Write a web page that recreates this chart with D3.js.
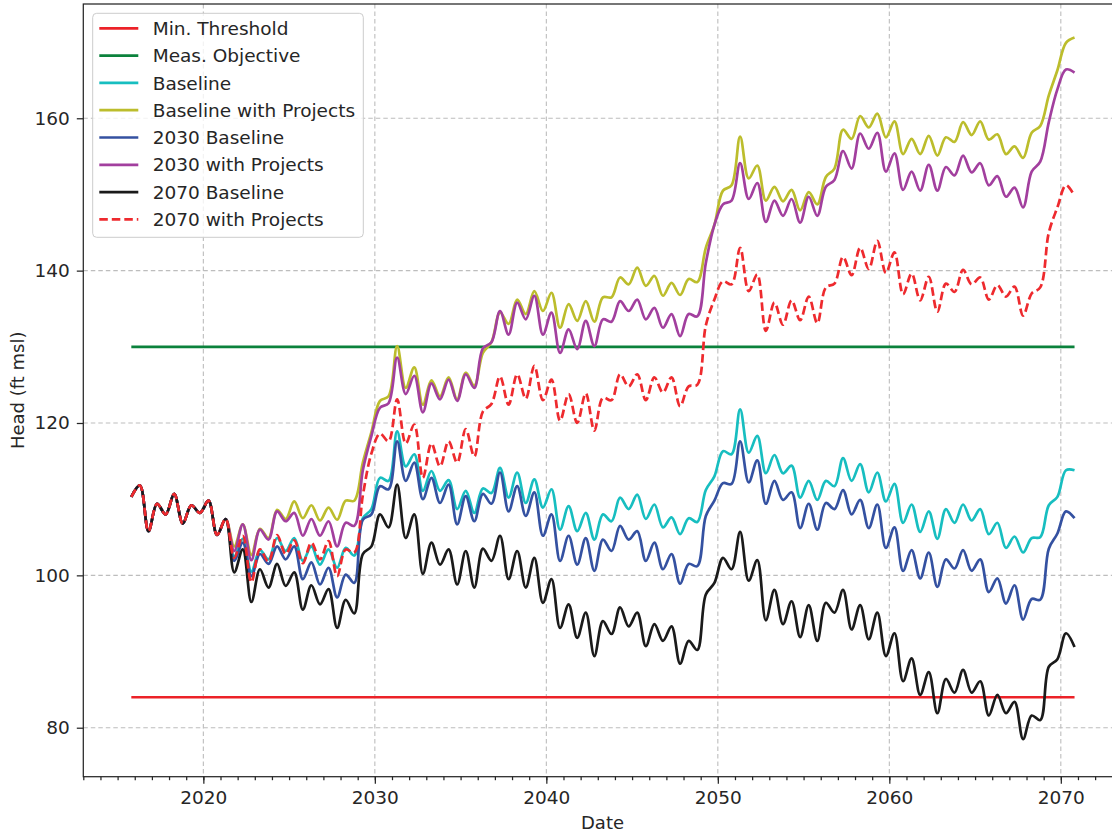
<!DOCTYPE html>
<html>
<head>
<meta charset="utf-8">
<script src="https://cdn.jsdelivr.net/npm/d3@7"></script>
<style>
  html, body { margin: 0; padding: 0; background: #ffffff; }
  svg { display: block; }
  text { font-family: "DejaVu Sans", sans-serif; }
</style>
</head>
<body>
<svg id="chart" width="1112" height="838"></svg>
<script>
// Sample dates (decimal years), two per year near the seasonal high and low
const dates = [
  2015.8,2016.3,2016.8,2017.3,2017.8,2018.3,2018.8,2019.3,2019.8,2020.3,
  2020.8,2021.3,2021.8,2022.3,2022.8,2023.3,2023.8,2024.3,2024.8,2025.3,
  2025.8,2026.3,2026.8,2027.3,2027.8,2028.3,2028.8,2029.3,2029.8,2030.3,
  2030.8,2031.3,2031.8,2032.3,2032.8,2033.3,2033.8,2034.3,2034.8,2035.3,
  2035.8,2036.3,2036.8,2037.3,2037.8,2038.3,2038.8,2039.3,2039.8,2040.3,
  2040.8,2041.3,2041.8,2042.3,2042.8,2043.3,2043.8,2044.3,2044.8,2045.3,
  2045.8,2046.3,2046.8,2047.3,2047.8,2048.3,2048.8,2049.3,2049.8,2050.3,
  2050.8,2051.3,2051.8,2052.3,2052.8,2053.3,2053.8,2054.3,2054.8,2055.3,
  2055.8,2056.3,2056.8,2057.3,2057.8,2058.3,2058.8,2059.3,2059.8,2060.3,
  2060.8,2061.3,2061.8,2062.3,2062.8,2063.3,2063.8,2064.3,2064.8,2065.3,
  2065.8,2066.3,2066.8,2067.3,2067.8,2068.3,2068.8,2069.3,2069.8,2070.3,
  2070.8
];

// Reference levels (ft msl)
const minThreshold = 84;
const measObjective = 130;

// Simulated head (ft msl) for each scenario, one value per date
const baseline = [
  110.3,111.8,105.8,109.4,108.0,110.7,106.8,109.2,108.2,109.8,
  105.3,107.4,102.5,104.8,100.5,103.3,102.1,104.9,103.2,104.9,
  101.9,103.8,101.4,103.4,101.0,103.6,102.6,107.5,108.7,112.8,
  112.4,118.9,114.3,115.9,111.1,113.7,111.1,112.5,108.7,111.1,
  108.2,111.4,110.8,114.1,110.2,113.5,109.5,112.6,108.9,111.3,
  106.0,109.1,105.8,108.2,104.7,108.0,107.1,110.2,108.7,110.6,
  107.4,109.3,106.3,107.6,105.4,107.5,107.0,111.2,113.0,116.3,
  115.9,121.8,116.1,118.3,113.4,115.8,113.4,114.4,110.2,112.4,
  109.9,112.4,111.7,115.4,112.4,114.6,110.9,113.5,109.7,112.0,
  106.9,109.3,105.7,108.4,104.8,108.7,106.9,109.3,107.2,108.7,
  105.4,106.9,103.6,105.1,103.0,104.9,105.0,109.2,110.3,113.8,
  113.8
];

const baselineWithProjects = [
  110.3,111.8,105.8,109.4,108.0,110.7,106.8,109.2,108.2,109.8,
  105.3,107.4,103.8,106.7,102.7,106.1,104.9,108.6,107.4,109.7,
  107.5,109.2,107.2,108.9,107.3,109.8,109.8,114.8,118.8,122.9,
  123.5,130.1,124.6,127.3,122.4,125.6,123.5,126.0,123.1,126.6,
  124.9,129.2,130.6,134.5,133.0,136.2,134.3,137.3,134.7,137.1,
  132.5,135.6,133.4,136.0,133.3,136.5,136.5,139.1,138.2,140.4,
  138.0,139.3,136.7,138.4,136.8,138.9,138.5,143.0,146.0,150.5,
  151.2,157.6,152.1,153.8,149.2,151.0,149.1,150.6,147.9,150.3,
  148.7,152.3,153.4,158.5,157.3,160.3,158.8,160.6,157.5,159.6,
  155.3,157.3,155.3,157.7,155.1,157.5,156.9,159.5,157.8,159.6,
  157.2,157.9,155.3,156.3,154.8,158.1,159.0,163.0,166.3,169.9,
  170.6
];

const baseline2030 = [
  110.3,111.8,105.8,109.4,108.0,110.7,106.8,109.2,108.2,109.8,
  105.3,107.4,101.9,104.3,99.9,102.8,101.5,103.8,102.1,103.8,
  99.5,101.7,98.8,101.0,97.1,100.1,99.0,107.3,108.0,111.7,
  111.3,117.6,112.4,114.8,110.0,112.8,109.5,111.9,106.7,110.4,
  107.1,110.7,109.4,113.5,108.4,111.7,107.8,110.9,105.2,108.0,
  101.9,105.2,101.4,104.9,100.6,104.7,103.2,106.5,104.7,105.8,
  101.9,104.3,100.8,102.8,98.9,101.5,101.2,107.8,109.8,112.1,
  112.0,117.6,112.2,115.1,109.4,112.4,109.9,110.9,106.2,109.4,
  106.0,109.5,108.7,111.2,108.0,109.9,106.2,109.3,103.6,106.3,
  100.6,103.3,99.6,103.0,98.5,102.1,100.9,103.3,100.6,102.1,
  97.8,99.6,96.3,98.7,94.2,96.9,96.8,103.5,105.5,108.4,
  107.5
];

const projects2030 = [
  110.3,111.8,105.8,109.4,108.0,110.7,106.8,109.2,108.2,109.8,
  105.3,107.4,103.2,106.7,102.0,106.0,104.7,108.4,107.1,108.2,
  105.2,107.4,105.2,107.1,103.8,106.9,106.5,113.8,118.3,122.0,
  122.6,128.6,123.8,126.2,121.4,125.2,123.1,125.7,122.9,126.4,
  124.6,129.8,130.6,134.7,131.6,135.8,133.6,136.7,131.6,134.5,
  129.2,132.3,129.7,133.4,130.1,133.6,133.3,136.0,134.7,136.2,
  133.6,135.1,132.5,134.3,131.4,134.3,134.0,141.0,146.0,148.7,
  149.2,154.1,149.4,151.5,146.4,149.2,147.2,149.4,146.3,149.7,
  147.2,151.0,151.9,155.7,153.4,158.0,156.0,158.1,153.0,155.4,
  150.6,153.0,150.5,153.9,150.5,153.6,152.5,155.1,152.9,154.1,
  151.2,152.4,149.7,150.9,148.3,153.0,154.3,159.5,163.8,166.4,
  166.0
];

const baseline2070 = [
  110.3,111.8,105.8,109.4,108.0,110.7,106.8,109.2,108.2,109.8,
  105.3,107.4,100.4,103.4,96.5,100.8,98.4,101.5,98.6,100.4,
  95.5,98.7,96.2,98.2,93.1,96.8,95.0,102.8,103.8,108.0,
  106.3,111.9,104.9,108.0,100.2,104.3,101.4,103.4,98.8,103.2,
  98.4,103.5,101.9,105.2,99.5,103.2,98.4,102.3,96.4,99.5,
  93.1,96.2,91.8,95.1,89.4,94.0,92.3,95.8,93.3,95.1,
  90.7,93.6,91.4,93.3,88.4,91.4,90.2,97.5,99.0,102.3,
  100.8,105.7,99.3,102.0,94.1,98.1,93.6,96.6,91.9,96.1,
  91.4,96.4,95.1,98.1,92.9,96.1,91.6,95.1,89.4,92.4,
  86.1,89.1,84.3,87.3,81.9,86.4,84.6,87.6,84.6,86.1,
  81.6,84.3,81.9,83.4,78.5,81.6,81.0,88.0,89.0,92.4,
  90.6
];

const projects2070 = [
  110.3,111.8,105.8,109.4,108.0,110.7,106.8,109.2,108.2,109.8,
  105.3,107.4,102.3,105.2,99.1,103.4,101.8,105.3,102.8,104.6,
  101.6,104.3,102.1,104.5,99.9,103.4,103.0,110.5,116.0,118.6,
  117.6,123.1,117.3,119.8,112.8,117.3,114.3,117.6,114.8,119.2,
  115.6,121.5,122.5,126.1,122.4,126.4,123.2,127.5,123.0,125.7,
  120.3,123.8,120.0,123.9,119.0,123.3,123.0,126.4,124.8,126.4,
  123.0,126.0,124.0,126.0,122.2,124.8,125.0,132.8,136.2,138.6,
  138.2,143.0,137.3,139.5,132.1,135.8,132.9,136.1,133.5,136.6,
  133.1,137.8,138.3,141.8,139.4,143.0,140.2,143.9,139.7,142.4,
  136.9,139.6,136.1,139.2,134.6,138.3,137.2,140.1,138.2,139.1,
  136.2,138.1,136.6,137.9,134.1,137.0,137.8,145.0,148.3,151.2,
  149.8
];

// Axis ticks
const xTickYears = [2020, 2030, 2040, 2050, 2060, 2070];
const yTickValues = [80, 100, 120, 140, 160];

// Series styling, in drawing / legend order
const seriesDefs = [
  { name: "Min. Threshold",          color: "#ec2228", dash: null,    level: minThreshold },
  { name: "Meas. Objective",         color: "#0b823c", dash: null,    level: measObjective },
  { name: "Baseline",                color: "#17bec0", dash: null,    values: baseline },
  { name: "Baseline with Projects",  color: "#bcbd2c", dash: null,    values: baselineWithProjects },
  { name: "2030 Baseline",           color: "#3451a1", dash: null,    values: baseline2030 },
  { name: "2030 with Projects",      color: "#a23f9e", dash: null,    values: projects2030 },
  { name: "2070 Baseline",           color: "#1a1a1a", dash: null,    values: baseline2070 },
  { name: "2070 with Projects",      color: "#ee2a2e", dash: "8.5,4", values: projects2070 }
];

const svg = d3.select("#chart");
const frame = { left: 83.3, top: 4, right: 1121.7, bottom: 776.7 };
const ink = "#262626";
const labelSize = 18.5;

const x = d3.scaleLinear().domain([2013.0, 2073.55]).range([frame.left, frame.right]);
const y = d3.scaleLinear().domain([73.57, 175.0]).range([frame.bottom, frame.top]);

svg.append("defs").append("clipPath").attr("id", "plot-clip")
  .append("rect")
  .attr("x", frame.left).attr("y", frame.top)
  .attr("width", frame.right - frame.left).attr("height", frame.bottom - frame.top);

// Dashed grid
const grid = svg.append("g").attr("stroke", "#bdbdbd").attr("stroke-width", 1.1)
  .attr("stroke-dasharray", "4.5,3");
grid.selectAll("line.gx").data(xTickYears).join("line").attr("class", "gx")
  .attr("x1", d => x(d)).attr("x2", d => x(d))
  .attr("y1", frame.top).attr("y2", frame.bottom);
grid.selectAll("line.gy").data(yTickValues).join("line").attr("class", "gy")
  .attr("x1", frame.left).attr("x2", frame.right)
  .attr("y1", d => y(d)).attr("y2", d => y(d));

// Lines
const plot = svg.append("g").attr("clip-path", "url(#plot-clip)");
const span = d3.extent(dates);
const lineGen = d3.line()
  .x(d => x(d[0]))
  .y(d => y(d[1]))
  .curve(d3.curveCatmullRom.alpha(0.5));

seriesDefs.forEach(s => {
  const pts = s.values
    ? s.values.map((v, i) => [dates[i], v])
    : [[span[0], s.level], [span[1], s.level]];
  plot.append("path")
    .datum(pts)
    .attr("d", lineGen)
    .attr("fill", "none")
    .attr("stroke", s.color)
    .attr("stroke-width", 2.7)
    .attr("stroke-linejoin", "round")
    .attr("stroke-linecap", "butt")
    .attr("stroke-dasharray", s.dash);
});

// Axes frame
svg.append("rect")
  .attr("x", frame.left).attr("y", frame.top)
  .attr("width", frame.right - frame.left).attr("height", frame.bottom - frame.top)
  .attr("fill", "none").attr("stroke", ink).attr("stroke-width", 1.25);

// X axis: decade labels and yearly minor ticks
const xAxis = svg.append("g")
  .attr("transform", `translate(0,${frame.bottom})`)
  .call(d3.axisBottom(x).tickValues(xTickYears).tickSize(7).tickPadding(7.2)
    .tickFormat(d3.format("d")));
const xMinor = svg.append("g")
  .attr("transform", `translate(0,${frame.bottom})`)
  .call(d3.axisBottom(x).tickValues(d3.range(2013, 2074)).tickSize(3.5).tickFormat(""));

const yAxis = svg.append("g")
  .attr("transform", `translate(${frame.left},0)`)
  .call(d3.axisLeft(y).tickValues(yTickValues).tickSize(6.5).tickPadding(7)
    .tickFormat(d3.format("d")));

[xAxis, xMinor, yAxis].forEach(g => {
  g.select(".domain").remove();
  g.attr("color", ink)
    .attr("font-family", "'DejaVu Sans', sans-serif")
    .attr("font-size", labelSize);
  g.selectAll(".tick line").attr("stroke-width", 1.25);
});

// Axis titles
svg.append("text")
  .attr("x", (frame.left + frame.right) / 2)
  .attr("y", 829)
  .attr("text-anchor", "middle")
  .attr("font-size", 18)
  .attr("fill", ink)
  .text("Date");

svg.append("text")
  .attr("transform", `translate(24,${(frame.top + frame.bottom) / 2}) rotate(-90)`)
  .attr("text-anchor", "middle")
  .attr("font-size", 18)
  .attr("fill", ink)
  .text("Head (ft msl)");

// Legend
const legend = svg.append("g");
legend.append("rect")
  .attr("x", 92.7).attr("y", 13.3)
  .attr("width", 270.6).attr("height", 224)
  .attr("rx", 4).attr("ry", 4)
  .attr("fill", "#ffffff").attr("fill-opacity", 0.8)
  .attr("stroke", "#cccccc").attr("stroke-width", 1);

const rows = legend.selectAll("g.row").data(seriesDefs).join("g")
  .attr("class", "row")
  .attr("transform", (d, i) => `translate(0,${28.3 + i * 27.3})`);
rows.append("line")
  .attr("x1", 99.3).attr("x2", 138.3)
  .attr("stroke", d => d.color)
  .attr("stroke-width", 2.7)
  .attr("stroke-dasharray", d => d.dash);
rows.append("text")
  .attr("x", 152.7)
  .attr("dy", "0.36em")
  .attr("font-size", labelSize)
  .attr("fill", ink)
  .text(d => d.name);
</script>
</body>
</html>
